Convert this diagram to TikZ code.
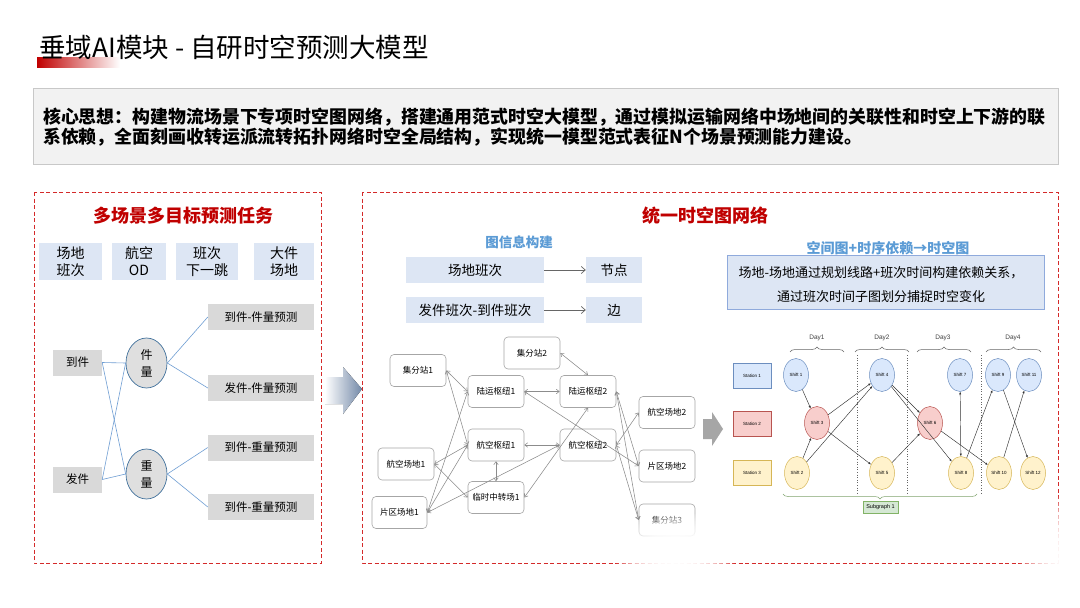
\documentclass[tikz,border=0pt]{standalone}
\usepackage{fontspec}
\setmainfont{Noto Sans CJK SC}
\newfontfamily\arialf{Liberation Sans}
\usetikzlibrary{arrows.meta,shapes.geometric,fadings,decorations.pathreplacing}
\newcommand\myfs[2]{\fontsize{#1}{#2}\selectfont}
\definecolor{tred}{HTML}{C00000}
\definecolor{dred}{HTML}{D42A2A}
\definecolor{lblue}{HTML}{DDE6F4}
\definecolor{gbox}{HTML}{D9D9D9}
\definecolor{corefill}{HTML}{F2F2F2}
\definecolor{coreline}{HTML}{C8C8C8}
\definecolor{subblue}{HTML}{5B9BD5}
\definecolor{lline}{HTML}{6F9ED3}
\definecolor{ellline}{HTML}{41719C}
\definecolor{gline}{HTML}{8C8C8C}
\definecolor{gborder}{HTML}{A6A6A6}
\definecolor{rbborder}{HTML}{8FAADC}
\definecolor{sbf}{HTML}{DAE8FC}\definecolor{sbd}{HTML}{6C8EBF}
\definecolor{srf}{HTML}{F8CECC}\definecolor{srd}{HTML}{B85450}
\definecolor{syf}{HTML}{FFF2CC}\definecolor{syd}{HTML}{D6B656}
\definecolor{sgf}{HTML}{D5E8D4}\definecolor{sgd}{HTML}{82B366}
\definecolor{slate}{HTML}{7389A8}
\tikzfading[name=glow, inner color=transparent!0, outer color=transparent!100]
\begin{document}
\begin{tikzpicture}[x=1pt,y=-1pt,
  frame/.style={draw=dred, dashed, dash pattern=on 4pt off 2.5pt, line width=0.9pt},
  ptitle/.style={text=tred, font=\bfseries\myfs{18}{20}},
  lbbox/.style={fill=lblue, inner sep=0, align=center, font=\myfs{14}{17}},
  gybox/.style={fill=gbox, inner sep=0, minimum height=26, font=\myfs{11.5}{14}},
  oval/.style={ellipse, draw=ellline, fill=gbox!85, line width=0.7pt, inner sep=0, minimum width=41, minimum height=50, align=center, font=\myfs{12}{17}},
  lconn/.style={draw=lline, line width=0.6pt},
  ibox/.style={fill=lblue, inner sep=0, minimum height=26, font=\myfs{13.5}{16}},
  gnode/.style={draw=gborder, fill=white, rounded corners=4, inner sep=0, minimum width=56, minimum height=32, line width=0.6pt, font=\myfs{8.5}{10}},
  gedge/.style={draw=gline, line width=0.55pt, {Straight Barb[length=3pt,width=4.5pt]}-{Straight Barb[length=3pt,width=4.5pt]}},
  stbox/.style={inner sep=0, minimum width=38, minimum height=25, line width=0.5pt, font=\arialf\myfs{4.5}{5}},
  shiftnode/.style={ellipse, inner sep=0, minimum width=25, minimum height=33, line width=0.5pt, font=\arialf\myfs{4.5}{5}},
  tedge/.style={draw=black!80, line width=0.45pt, -{Latex[length=2.6pt,width=2.2pt]}},
  tedge2/.style={draw=black!80, line width=0.45pt, {Latex[length=2.6pt,width=2.2pt]}-{Latex[length=2.6pt,width=2.2pt]}},
  dayl/.style={font=\arialf\myfs{6.5}{7}, text=black!75},
  dbrace/.style={draw=black!60, line width=0.5pt, decorate, decoration={brace, amplitude=5pt}},
  glare/.style={white, path fading=glow}
]
\useasboundingbox (0,0) rectangle (1080,608);
\fill[white] (0,0) rectangle (1080,608);

% title
\fill[left color=tred, right color=white] (37,57) rectangle (120,67);
\node[font=\myfs{26.5}{30}, anchor=west, inner sep=0] (title) at (39,47) {垂域AI模块 - 自研时空预测大模型};

% core idea
\node[draw=coreline, fill=corefill, minimum width=1025, minimum height=76, inner sep=0, line width=0.8pt] (core) at (545.5,126) {};
\node[anchor=west, inner sep=0, font=\bfseries\myfs{17.9}{20}] (core1) at (43,117) {核心思想：构建物流场景下专项时空图网络，搭建通用范式时空大模型，通过模拟运输网络中场地间的关联性和时空上下游的联};
\node[anchor=west, inner sep=0, font=\bfseries\myfs{17.9}{20}] (core2) at (43,137) {系依赖，全面刻画收转运派流转拓扑网络时空全局结构，实现统一模型范式表征N个场景预测能力建设。};

% ---------- left panel ----------
\draw[frame] (34,192) rectangle (321,563);
\node[ptitle] (ltitle) at (183,216) {多场景多目标预测任务};
\node[lbbox, minimum width=63, minimum height=37] (b1) at (70.5,261.5) {场地\\班次};
\node[lbbox, minimum width=54, minimum height=37] (b2) at (139,261.5) {航空\\OD};
\node[lbbox, minimum width=62, minimum height=37] (b3) at (207,261.5) {班次\\下一跳};
\node[lbbox, minimum width=60, minimum height=37] (b4) at (284,261.5) {大件\\场地};

\node[gybox, minimum width=49] (dj) at (77.5,362.5) {到件};
\node[gybox, minimum width=49] (fj) at (77.5,479.5) {发件};
\node[gybox, minimum width=106] (p1) at (261,317) {到件-件量预测};
\node[gybox, minimum width=106] (p2) at (261,388) {发件-件量预测};
\node[gybox, minimum width=106] (p3) at (261,447.5) {到件-重量预测};
\node[gybox, minimum width=106] (p4) at (261,507) {到件-重量预测};
\node[oval] (jl) at (146.5,363) {件\\量};
\node[oval] (zl) at (146.5,474) {重\\量};
\draw[lconn] (dj.east) -- (jl.west);
\draw[lconn] (dj.east) -- (zl.west);
\draw[lconn] (fj.east) -- (jl.west);
\draw[lconn] (fj.east) -- (zl.west);
\draw[lconn] (jl.east) -- (p1.west);
\draw[lconn] (jl.east) -- (p2.west);
\draw[lconn] (zl.east) -- (p3.west);
\draw[lconn] (zl.east) -- (p4.west);

% arrow between panels
\fill[left color=white, right color=slate] (325,377) -- (343,377) -- (343,367) -- (362,389) -- (343,414) -- (343,404) -- (325,404) -- cycle;

% ---------- middle/right panel ----------
\draw[frame] (362,192) rectangle (1058,563);
\node[ptitle] (mtitle) at (705,216) {统一时空图网络};
\node[text=subblue, font=\bfseries\myfs{13.5}{15}] (gtitle) at (519,242) {图信息构建};
\node[ibox, minimum width=138] (i1) at (475,270) {场地班次};
\node[ibox, minimum width=56] (i2) at (614,270) {节点};
\node[ibox, minimum width=138] (i3) at (475,310) {发件班次-到件班次};
\node[ibox, minimum width=56] (i4) at (614,310) {边};
\draw[draw=black!60, line width=0.7pt, -{Straight Barb[length=4pt,width=7pt]}] (i1.east) -- (i2.west);
\draw[draw=black!60, line width=0.7pt, -{Straight Barb[length=4pt,width=7pt]}] (i3.east) -- (i4.west);

% graph
\node[gnode] (jf1) at (418,370.5) {集分站1};
\node[gnode] (jf2) at (532,353) {集分站2};
\node[gnode] (ly1) at (496,391.5) {陆运枢纽1};
\node[gnode] (ly2) at (588,391.5) {陆运枢纽2};
\node[gnode] (hk1) at (496,445) {航空枢纽1};
\node[gnode] (hk2) at (588,445) {航空枢纽2};
\node[gnode] (hd1) at (406,464) {航空场地1};
\node[gnode] (lz1) at (496,497.5) {临时中转场1};
\node[gnode, minimum width=55] (pq1) at (399.5,512.5) {片区场地1};
\node[gnode] (hd2) at (667,412.5) {航空场地2};
\node[gnode] (pq2) at (667,466) {片区场地2};
\node[gnode] (jf3) at (667,520) {集分站3};
\draw[gedge] (jf1.east) -- (ly1.west);
\draw[gedge] (jf1.east) -- (hk1.west);
\draw[gedge] (ly1.east) -- (ly2.west);
\draw[gedge] (jf2.east) -- (ly2.north);
\draw[gedge] (hk1.east) -- (hk2.west);
\draw[gedge] (hk1.south) -- (lz1.north);
\draw[gedge] (hd1.east) -- (hk1.west);
\draw[gedge] (hd1.east) -- (lz1.west);
\draw[gedge] (pq1.east) -- (ly1.west);
\draw[gedge] (pq1.east) -- (hk1.west);
\draw[gedge] (pq1.east) -- (hk2.west);
\draw[gedge] (lz1.east) -- (ly2.south);
\draw[gedge] (ly1.east) -- (pq2.west);
\draw[gedge] (ly2.east) -- (pq2.west);
\draw[gedge] (hk2.east) -- (hd2.west);
\draw[gedge] (hk2.east) -- (jf3.west);
\draw[gedge] (ly2.east) -- (jf3.west);

% gray block arrow
\fill[black!35] (703,419) -- (712,419) -- (712,412) -- (723,429) -- (712,446) -- (712,439) -- (703,439) -- cycle;

% right part
\node[text=subblue, font=\bfseries\myfs{14}{16}] (rtitle) at (888,248) {空间图+时序依赖→时空图};
\node[draw=rbborder, fill=lblue, line width=0.9pt, minimum width=317, minimum height=54, inner sep=0] (rbox) at (885.5,282) {};
\node[font=\myfs{13}{24}, align=center] (rtext) at (881,285) {场地-场地通过规划线路+班次时间构建依赖关系，\\通过班次时间子图划分捕捉时空变化};

% time-space diagram
\node[dayl] (d1) at (817,338) {Day1};
\node[dayl] (d2) at (882,338) {Day2};
\node[dayl] (d3) at (943,338) {Day3};
\node[dayl] (d4) at (1013,338) {Day4};
\draw[dbrace] (790,352) -- (844,352);
\draw[dbrace] (855,352) -- (909,352);
\draw[dbrace] (917,352) -- (971,352);
\draw[dbrace] (986,352) -- (1041,352);
\draw[black!60, dotted, line width=0.6pt] (857,355) -- (857,495);
\draw[black!60, dotted, line width=0.6pt] (907,355) -- (907,495);
\draw[black!60, dotted, line width=0.6pt] (981,355) -- (981,495);

\node[stbox, fill=sbf, draw=sbd] (st1) at (752,375.5) {Station 1};
\node[stbox, fill=srf, draw=srd] (st2) at (752,424) {Station 2};
\node[stbox, fill=syf, draw=syd] (st3) at (752,473) {Station 3};

\node[shiftnode, fill=sbf, draw=sbd] (s1) at (796,375) {Shift 1};
\node[shiftnode, fill=srf, draw=srd] (s3) at (817,423) {Shift 3};
\node[shiftnode, fill=syf, draw=syd] (s2) at (797,473) {Shift 2};
\node[shiftnode, fill=sbf, draw=sbd] (s4) at (882,375) {Shift 4};
\node[shiftnode, fill=syf, draw=syd] (s5) at (882,473) {Shift 5};
\node[shiftnode, fill=srf, draw=srd] (s6) at (930,423) {Shift 6};
\node[shiftnode, fill=sbf, draw=sbd] (s7) at (960,375) {Shift 7};
\node[shiftnode, fill=syf, draw=syd] (s8) at (961,473) {Shift 8};
\node[shiftnode, fill=sbf, draw=sbd] (s9) at (998,375) {Shift 9};
\node[shiftnode, fill=sbf, draw=sbd] (s11) at (1029,375) {Shift 11};
\node[shiftnode, fill=syf, draw=syd] (s10) at (999,473) {Shift 10};
\node[shiftnode, fill=syf, draw=syd] (s12) at (1033,473) {Shift 12};
\draw[tedge] (s1) -- (s3);
\draw[tedge] (s2) -- (s3);
\draw[tedge] (s3) -- (s4);
\draw[tedge] (s2) -- (s4);
\draw[tedge] (s3) -- (s5);
\draw[tedge] (s4) -- (s6);
\draw[tedge] (s4) -- (s8);
\draw[tedge] (s5) -- (s6);
\draw[tedge2] (s8) -- (s7);
\draw[tedge] (s6) -- (s10);
\draw[tedge] (s8) -- (s9);
\draw[tedge] (s10) -- (s11);
\draw[tedge] (s9) -- (s12);

\draw[draw=sgd!70!gray, line width=0.5pt, decorate, decoration={brace, amplitude=5pt}] (977,494) -- (783,494);
\node[fill=sgf, draw=sgd, line width=0.5pt, inner sep=0, minimum width=35, minimum height=12, font=\arialf\myfs{5.5}{6}] (sg) at (880.5,507) {Subgraph 1};

% glare
\fill[glare] (675,552) ellipse (62 and 42);
\fill[glare] (675,552) ellipse (62 and 42);
\fill[glare] (675,552) ellipse (62 and 42);
\fill[glare] (1078,560) ellipse (60 and 70);
\fill[glare] (1078,560) ellipse (60 and 70);
\fill[glare] (1078,560) ellipse (60 and 70);
\end{tikzpicture}
\end{document}
